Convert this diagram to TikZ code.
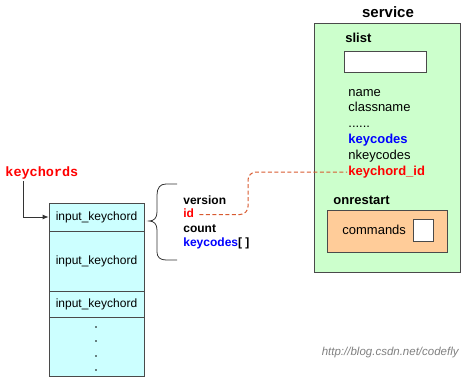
\documentclass[tikz,border=0pt]{standalone}
\usepackage{fontspec}
\setmainfont{Liberation Sans}
\setmonofont{Liberation Mono}
\usetikzlibrary{arrows.meta}
\definecolor{boxgreen}{HTML}{CCFFCC}
\definecolor{boxcyan}{HTML}{CCFFFF}
\definecolor{boxorange}{HTML}{FFCC99}
\definecolor{linkorange}{HTML}{D85A30}
\definecolor{edgegray}{HTML}{4A4A4A}
\definecolor{fieldblue}{HTML}{0000FF}
\definecolor{fieldred}{HTML}{FF0000}
\tikzset{
  field/.style={anchor=west, inner sep=1pt, text height=9.5pt, text depth=2.8pt, font=\fontsize{13}{15}\selectfont},
  member/.style={anchor=west, inner sep=1pt, text height=9pt, text depth=2.6pt, font=\fontsize{12}{14}\selectfont\bfseries},
  cell/.style={draw=edgegray, fill=boxcyan, minimum width=95pt, inner sep=0pt, font=\fontsize{12}{14}\selectfont},
  link/.style={linkorange, line width=1pt, dash pattern=on 4pt off 2.5pt, rounded corners=8pt},
}
\begin{document}
\begin{tikzpicture}[x=1pt,y=-1pt,line width=0.8pt]
\useasboundingbox (0,0) rectangle (462,377);
% service struct
\node[draw=edgegray, fill=boxgreen, minimum width=146pt, minimum height=249pt, inner sep=0pt] (svc) at (387,147.5) {};
\node[inner sep=1pt, font=\fontsize{15}{17}\selectfont\bfseries] (svctitle) at (388,12) {service};
\node[field, font=\fontsize{13}{15}\selectfont\bfseries] (slist) at (344,39) {slist};
\node[draw=edgegray, fill=white, minimum width=82pt, minimum height=21pt, inner sep=0pt] (slistbox) at (385,61.5) {};
\node[field] (name) at (347,93.6) {name};
\node[field] (classname) at (347,108.6) {classname};
\node[field] (more) at (347,124) {......};
\node[field, text=fieldblue, font=\fontsize{13}{15}\selectfont\bfseries] (keycodes) at (347,140.6) {keycodes};
\node[field] (nkeycodes) at (347,156.6) {nkeycodes};
\node[field, text=fieldred, font=\fontsize{13}{15}\selectfont\bfseries] (kcid) at (347,172) {keychord\_id};
\node[field, font=\fontsize{13}{15}\selectfont\bfseries] (onrestart) at (332,201.5) {onrestart};
\node[draw=edgegray, fill=boxorange, minimum width=120pt, minimum height=42pt, inner sep=0pt] (restartbox) at (387,231) {};
\node[field] (commands) at (341,231.5) {commands};
\node[draw=edgegray, fill=white, minimum width=20pt, minimum height=22pt, inner sep=0pt] (cmdbox) at (423,230) {};
% keychords array
\node[anchor=west, inner sep=1pt, text=fieldred, font=\fontsize{13.5}{15}\selectfont\ttfamily\bfseries] (kc) at (4,173.5) {keychords};
\node[cell, minimum height=28pt] (cell1) at (96.5,217) {input\_keychord};
\node[cell, minimum height=60pt] (cell2) at (96.5,261) {input\_keychord};
\node[cell, minimum height=26pt] (cell3) at (96.5,304) {input\_keychord};
\node[cell, minimum height=59.5pt] (cell4) at (96.5,346.75) {};
\foreach \y in {327,341,356,370} \fill (96,\y) circle (0.9pt);
\draw[-{Latex[length=6pt,width=5pt]}, black!80] ([xshift=19pt]kc.south west) |- (cell1.west);
% brace and fields
\draw[black!80] (177,184) -- (166,184) .. controls (160,184) and (157,188) .. (157,195)
  -- (157,212) .. controls (157,218) and (154,221) .. (149,221)
  .. controls (154,221) and (157,224) .. (157,230) -- (157,252)
  .. controls (157,257) and (160,260) .. (166,260) -- (177,260);
\node[member] (version) at (182,201.5) {version};
\node[member, text=fieldred] (id) at (182,214.5) {id};
\node[member] (count) at (182,229) {count};
\node[member] (kcodes) at (182,243.5) {\textcolor{fieldblue}{keycodes}[ ]};
% link id -> keychord_id
\coordinate (bend) at (248,173);
\draw[link] ([xshift=4pt]id.east) -| (bend |- kcid.west) -- (kcid.west);
% watermark
\node[anchor=east, inner sep=1pt, text=gray, font=\fontsize{11.5}{13}\selectfont\itshape] (mark) at (460,353) {http://blog.csdn.net/codefly};
\end{tikzpicture}
\end{document}
